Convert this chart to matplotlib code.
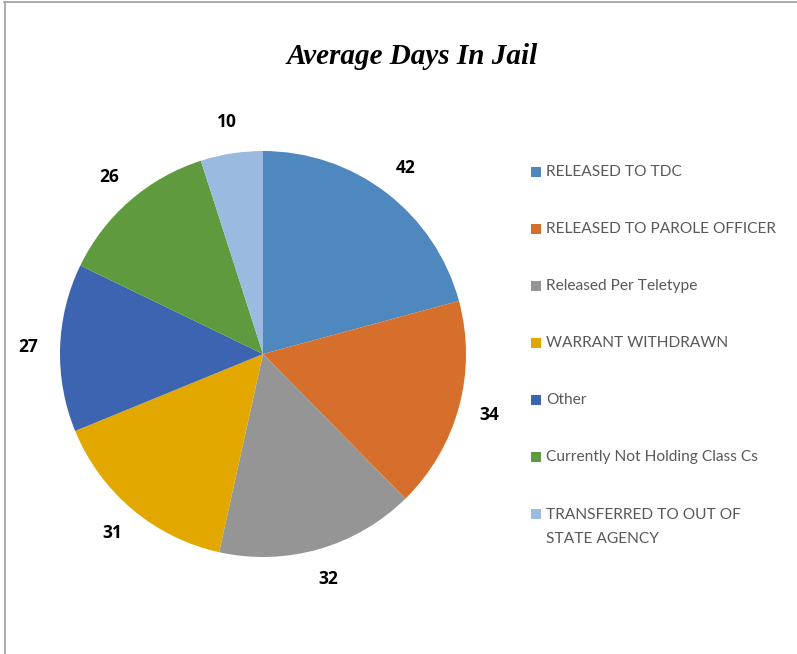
import matplotlib
matplotlib.use("Agg")
import matplotlib.pyplot as plt
from matplotlib.lines import Line2D
from matplotlib.patches import Rectangle

categories = ["RELEASED TO TDC", "RELEASED TO PAROLE OFFICER", "Released Per Teletype",
              "WARRANT WITHDRAWN", "Other", "Currently Not Holding Class Cs",
              "TRANSFERRED TO OUT OF\nSTATE AGENCY"]
values = [42, 34, 32, 31, 27, 26, 10]
colors = ["#4F88BE", "#D66F2B", "#959595", "#E2A800", "#3D64B0", "#5F9A3E", "#9BBAE0"]

W, H = 797, 654
fig = plt.figure(figsize=(W / 100, H / 100), dpi=100)

cx, cy, r = 263, 354, 203
ax = fig.add_axes([(cx - r) / W, (H - cy - r) / H, 2 * r / W, 2 * r / H])
wedges, texts = ax.pie(values, colors=colors, startangle=90, counterclock=False,
                       labels=[str(v) for v in values], labeldistance=1.155,
                       textprops=dict(fontsize=12.5, fontweight="bold", color="black",
                                      family="Open Sans"))
for t in texts:
    t.set_ha("center")
    t.set_va("center")
ax.set_xlim(-1, 1)
ax.set_ylim(-1, 1)
ax.set_aspect("equal")
ax.axis("off")

fig.text(412 / W, 1 - 56 / H, "Average Days In Jail", ha="center", va="center",
         fontsize=21, fontweight="bold", fontstyle="italic", family="Liberation Serif")

# legend
y0, step = 172, 57
for i, (lab, col) in enumerate(zip(categories, colors)):
    y = y0 + i * step
    fig.patches.append(Rectangle((531 / W, 1 - (y + 5) / H), 10 / W, 10 / H,
                                 transform=fig.transFigure, facecolor=col, edgecolor="none"))
    if "\n" in lab:
        fig.text(546 / W, 1 - (y - 6) / H, lab, ha="left", va="top",
                 fontsize=11.2, color="#595959", family="Lato", linespacing=1.9)
    else:
        fig.text(546 / W, 1 - y / H, lab, ha="left", va="center",
                 fontsize=11.2, color="#595959", family="Lato")

# border
fig.add_artist(Line2D([4 / W, 1], [1 - 1.5 / H, 1 - 1.5 / H], color="#A0A0A0", lw=1.2,
                      transform=fig.transFigure))
fig.add_artist(Line2D([4.5 / W, 4.5 / W], [0, 1 - 1.5 / H], color="#A0A0A0", lw=1.2,
                      transform=fig.transFigure))

fig.savefig("out.png", dpi=100)
